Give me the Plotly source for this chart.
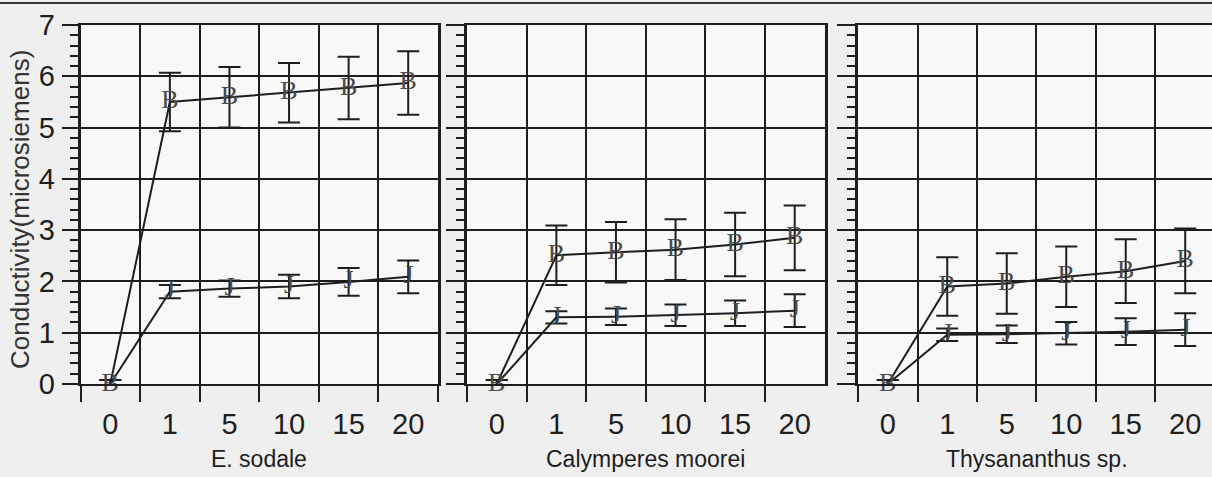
import plotly.graph_objects as go

# leaching time categories (x axis), same for all three mosses
cats = ["0", "1", "5", "10", "15", "20"]
panels = ["E. sodale", "Calymperes moorei", "Thysananthus sp."]

# upper series ("B" markers) and lower series ("J" markers), with +/- errors
sodale_b = [0, 5.50, 5.59, 5.68, 5.77, 5.87]
sodale_b_err = [0.08, 0.57, 0.59, 0.58, 0.61, 0.62]
sodale_j = [0, 1.80, 1.86, 1.90, 1.99, 2.09]
sodale_j_err = [0.08, 0.13, 0.16, 0.23, 0.27, 0.32]

calym_b = [0, 2.51, 2.57, 2.62, 2.72, 2.85]
calym_b_err = [0.08, 0.58, 0.59, 0.59, 0.62, 0.63]
calym_j = [0, 1.30, 1.31, 1.34, 1.38, 1.43]
calym_j_err = [0.08, 0.12, 0.16, 0.21, 0.25, 0.32]

thysa_b = [0, 1.90, 1.96, 2.09, 2.20, 2.40]
thysa_b_err = [0.08, 0.57, 0.59, 0.59, 0.62, 0.63]
thysa_j = [0, 0.96, 0.97, 0.99, 1.02, 1.06]
thysa_j_err = [0.08, 0.12, 0.17, 0.22, 0.26, 0.32]

W, H = 1212, 477
FONT = "Liberation Sans, Arial, sans-serif"
INK = "#1e1e1e"

# panel positions in pixels -> paper fractions
xdoms = [(80.5, 438), (467, 824.5), (858, 1212)]
xranges = [[-0.5, 5.5], [-0.5, 5.5], [-0.5, 5.45]]
ydom = [(H - 384) / H, (H - 25) / H]

series = [
    (sodale_b, sodale_b_err, sodale_j, sodale_j_err),
    (calym_b, calym_b_err, calym_j, calym_j_err),
    (thysa_b, thysa_b_err, thysa_j, thysa_j_err),
]

fig = go.Figure()

for i, (b, be, j, je) in enumerate(series):
    ax = "" if i == 0 else str(i + 1)
    # at 0 both glyphs sit on top of each other, only one is drawn there
    for vals, errs, glyphs in [(j, je, [""] + ["J"] * 5), (b, be, ["B"] * 6)]:
        fig.add_trace(go.Scatter(
            x=cats, y=vals,
            mode="lines+text",
            text=glyphs,
            textposition="middle center",
            textfont=dict(family="Liberation Serif, serif", size=26, color="#4a4a4a"),
            line=dict(color=INK, width=2),
            error_y=dict(type="data", array=errs, visible=True,
                         color=INK, thickness=2, width=11),
            cliponaxis=False,
            showlegend=False,
            xaxis="x" + ax, yaxis="y" + ax,
        ))

layout = dict(
    width=W, height=H,
    autosize=False,
    margin=dict(l=0, r=0, t=0, b=0, pad=0, autoexpand=False),
    paper_bgcolor="#efefef",
    plot_bgcolor="#f8f8f8",
    font=dict(family=FONT, color=INK),
    showlegend=False,
)

for i in range(3):
    ax = "" if i == 0 else str(i + 1)
    layout["xaxis" + ax] = dict(
        domain=[xdoms[i][0] / W, xdoms[i][1] / W],
        type="category",
        categoryorder="array", categoryarray=cats,
        range=xranges[i],
        tickson="boundaries",
        ticks="outside", ticklen=16, tickwidth=2, tickcolor=INK,
        showgrid=True, gridcolor=INK, gridwidth=2,
        showline=True, linecolor=INK, linewidth=2, mirror=True,
        zeroline=False,
        tickfont=dict(size=29, family=FONT, color=INK),
        ticklabelstandoff=13,
        automargin=False,
        anchor="y" + ax,
        fixedrange=True,
    )
    layout["yaxis" + ax] = dict(
        domain=ydom,
        range=[0, 7],
        dtick=1,
        ticks="outside", ticklen=16 if i == 0 else 18, tickwidth=2, tickcolor=INK,
        minor=dict(dtick=0.2, ticks="outside", ticklen=8, tickwidth=2,
                   tickcolor=INK, showgrid=False),
        showgrid=True, gridcolor=INK, gridwidth=2,
        showline=True, linecolor=INK, linewidth=2.5, mirror=True,
        zeroline=False,
        showticklabels=(i == 0),
        tickfont=dict(size=29, family=FONT, color=INK),
        ticklabelstandoff=1,
        automargin=False,
        anchor="x" + ax,
        fixedrange=True,
    )

fig.update_layout(**layout)

# panel names under each plot
annos = []
for i, name in enumerate(panels):
    cx = xdoms[i][0] + 3 * 59.5
    annos.append(dict(text=name, x=cx / W, y=(H - 459) / H, xref="paper", yref="paper",
                      xanchor="center", yanchor="middle", showarrow=False,
                      font=dict(size=23, family=FONT, color=INK)))
annos.append(dict(text="Conductivity(microsiemens)", x=20 / W, y=(H - 210) / H,
                  xref="paper", yref="paper", textangle=-90,
                  xanchor="center", yanchor="middle", showarrow=False,
                  font=dict(size=26, family=FONT, color="#333333")))
fig.update_layout(annotations=annos)

# scanned page rule along the top edge
fig.add_shape(type="line", xref="paper", yref="paper", x0=0, x1=1,
              y0=(H - 3) / H, y1=(H - 3) / H, line=dict(color="#333333", width=2))

fig.write_html("out.html", config={"responsive": False, "displayModeBar": False},
               post_script="document.body.style.margin='0';")
